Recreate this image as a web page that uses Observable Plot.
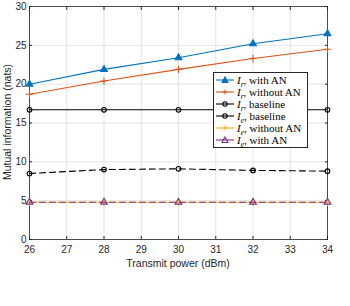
<!DOCTYPE html>
<html><head><meta charset="utf-8">
<script src="https://cdn.jsdelivr.net/npm/d3@7"></script>
<script src="https://cdn.jsdelivr.net/npm/@observablehq/plot@0.6"></script>
<style>
body{margin:0;background:#fff;}
#wrap{position:relative;width:350px;height:306px;font-family:"Liberation Sans",Arial,sans-serif;}
#legend{position:absolute;left:213px;top:72px;width:93px;height:74px;border:1px solid #262626;background:#fff;font-family:"Liberation Serif","DejaVu Serif",serif;font-size:11px;color:#000;}
#legend .row{position:absolute;left:0;height:12px;display:flex;align-items:center;white-space:nowrap;}
#legend svg{margin-left:2px;margin-right:3px;}
</style></head>
<body><div id="wrap"></div>
<script>
const power = [26, 28, 30, 32, 34];
const irWithAN = [20.0, 21.9, 23.4, 25.2, 26.5];
const irWithoutAN = [18.7, 20.4, 21.9, 23.3, 24.5];
const irBaseline = [16.7, 16.7, 16.7, 16.7, 16.7];
const ieBaseline = [8.5, 9.0, 9.1, 8.9, 8.8];
const ieWithoutAN = [4.8, 4.8, 4.8, 4.8, 4.8];
const ieWithAN = [4.8, 4.8, 4.8, 4.8, 4.8];
const xTicks = [26, 27, 28, 29, 30, 31, 32, 33, 34];
const yTicks = [0, 5, 10, 15, 20, 25, 30];

const series = [
  {name: "r", label: ", with AN", values: irWithAN, color: "#0072BD", symbol: "triangle", fill: "#0072BD", dash: null},
  {name: "r", label: ", without AN", values: irWithoutAN, color: "#D95319", symbol: "plus", fill: "none", dash: null},
  {name: "r", label: ", baseline", values: irBaseline, color: "#000000", symbol: "circle", fill: "none", dash: null},
  {name: "e", label: ", baseline", values: ieBaseline, color: "#000000", symbol: "circle", fill: "none", dash: "6,4"},
  {name: "e", label: ", without AN", values: ieWithoutAN, color: "#EDB120", symbol: "plus", fill: "none", dash: null},
  {name: "e", label: ", with AN", values: ieWithAN, color: "#7E2F8E", symbol: "triangle", fill: "none", dash: "6,4"}
];

const marks = [
  Plot.gridX(xTicks, {stroke: "#dcdcdc", strokeOpacity: 1, strokeWidth: 0.8}),
  Plot.gridY(yTicks, {stroke: "#dcdcdc", strokeOpacity: 1, strokeWidth: 0.8}),
  Plot.frame({stroke: "#262626", strokeWidth: 0.8}),
  Plot.axisX(xTicks, {anchor: "bottom", tickSize: -3, tickPadding: 9, fontSize: 10, color: "#262626", label: null}),
  Plot.axisX(xTicks, {anchor: "top", tickSize: -3, tickFormat: () => "", label: null, color: "#262626"}),
  Plot.axisY(yTicks, {anchor: "left", tickSize: -3, tickPadding: 6, fontSize: 10, color: "#262626", label: null}),
  Plot.axisY(yTicks, {anchor: "right", tickSize: -3, tickFormat: () => "", label: null, color: "#262626"})
];
for (const s of series) {
  const data = power.map((p, i) => ({x: p, y: s.values[i]}));
  marks.push(Plot.line(data, {x: "x", y: "y", stroke: s.color, strokeWidth: 1.1, strokeDasharray: s.dash}));
  marks.push(Plot.dot(data, {x: "x", y: "y", symbol: () => s.symbol, r: s.symbol === "circle" ? 2.3 : 2.5, stroke: s.color, fill: s.fill, strokeWidth: 1.1}));
}

const chart = Plot.plot({
  width: 350, height: 306,
  marginLeft: 29, marginRight: 23, marginTop: 6, marginBottom: 67,
  x: {domain: [26, 34]},
  y: {domain: [0, 30]},
  style: {fontFamily: "Liberation Sans, Arial, sans-serif", background: "#fff"},
  marks
});
const wrap = document.getElementById("wrap");
wrap.appendChild(chart);

// axis titles
const xl = document.createElement("div");
xl.textContent = "Transmit power (dBm)";
xl.style.cssText = "position:absolute;left:29px;width:298px;top:257px;text-align:center;font-size:10.5px;color:#262626;";
wrap.appendChild(xl);
const yl = document.createElement("div");
yl.textContent = "Mutual information (nats)";
yl.style.cssText = "position:absolute;left:-113px;top:116px;width:240px;text-align:center;font-size:10.5px;color:#262626;transform:rotate(-90deg);";
wrap.appendChild(yl);

// legend
const lg = document.createElement("div");
lg.id = "legend";
series.forEach((s, i) => {
  const row = document.createElement("div");
  row.className = "row";
  row.style.top = (0.5 + i * 12.1) + "px";
  let sym = "";
  if (s.symbol === "triangle") sym = `<path d="M9,3 L12,8.5 L6,8.5 Z" fill="${s.fill}" stroke="${s.color}" stroke-width="1.1"/>`;
  else if (s.symbol === "plus") sym = `<path d="M9,3.5 V8.5 M6.5,6 H11.5" stroke="${s.color}" stroke-width="1"/>`;
  else sym = `<circle cx="9" cy="6" r="2.2" fill="none" stroke="${s.color}" stroke-width="1.1"/>`;
  row.innerHTML = `<svg width="18" height="12"><line x1="0" y1="6" x2="18" y2="6" stroke="${s.color}" stroke-width="1.1"/>${sym}</svg><span><i>I</i><sub style="font-size:7.5px;line-height:0;"><i>${s.name}</i></sub>${s.label}</span>`;
  lg.appendChild(row);
});
wrap.appendChild(lg);
</script></body></html>
